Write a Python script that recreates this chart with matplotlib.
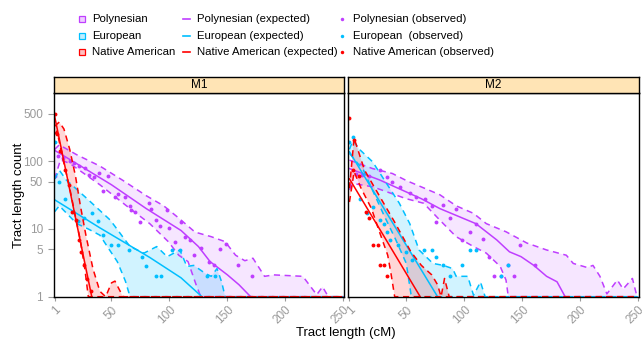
import numpy as np
import matplotlib.pyplot as plt
from matplotlib.lines import Line2D

# colours
pol_col = "#BF3EFF"
eur_col = "#00BFFF"
nat_col = "#FF0000"

# ---------------- M1 ----------------
m1_pol_exp_x = [1, 25, 50, 80, 110, 125, 135, 150, 160, 170]
m1_pol_exp_y = [145, 82, 45, 20, 9.5, 5.5, 3.3, 2.1, 1.5, 1.0]
m1_pol_hi_x = [1, 5, 20, 40, 60, 80, 95, 108, 122, 136, 148, 157, 165, 172, 182, 190, 215, 227, 232, 237, 250]
m1_pol_hi_y = [150, 175, 125, 85, 52, 31, 22, 14.5, 9, 7.7, 6.5, 4.1, 3.4, 3.7, 2.0, 2.1, 2.0, 1.07, 1.4, 1.0, 1.0]
m1_pol_lo_x = [1, 6, 14, 40, 66, 83, 99, 108, 116, 123, 127, 250]
m1_pol_lo_y = [55, 105, 93, 45, 20, 12, 6.5, 4.1, 3.3, 1.5, 1.0, 1.0]
m1_pol_obs_x = [1, 4, 8, 14, 18, 22, 27, 31, 35, 39, 43, 47, 53, 56, 62, 66, 67, 70, 75, 82,
                84, 88, 92, 98, 100, 105, 110, 113, 118, 121, 127, 134, 138, 144, 149, 159, 171]
m1_pol_obs_y = [60, 118, 112, 100, 95, 84, 79, 63, 58, 68, 36, 60, 30, 33, 30, 22, 19, 18, 12.5, 24,
                20, 13.5, 11, 19, 10.5, 6.5, 12.5, 7.5, 6.8, 4.2, 5.2, 3.3, 2.9, 5.0, 6, 2.9, 2.0]

m1_eur_exp_x = [1, 40, 83, 110, 128]
m1_eur_exp_y = [27, 10.4, 3.8, 1.9, 1.0]
m1_eur_hi_x = [1, 5, 11, 29, 49, 66, 78, 89, 98, 109, 115, 121, 131, 136, 141, 145, 148, 250]
m1_eur_hi_y = [55, 74, 53, 28, 13.5, 5.5, 4.4, 5.5, 3.9, 4.9, 2.8, 2.9, 2.2, 2.0, 2.6, 1.65, 1.0, 1.0]
m1_eur_lo_x = [1, 5, 10, 20, 30, 40, 48, 55, 62, 66, 250]
m1_eur_lo_y = [18, 22, 18, 12, 10, 8.1, 5, 3.3, 1.7, 1.0, 1.0]
m1_eur_obs_x = [1, 5, 10, 17, 21, 26, 33, 38, 43, 50, 56, 65, 76, 80, 88, 93, 102, 109, 132, 139]
m1_eur_obs_y = [190, 50, 28, 18, 13, 14.4, 17, 13, 8.1, 5.8, 5.8, 4.9, 3.9, 2.8, 2.0, 2.0, 4.9, 4.9, 2.0, 2.0]

m1_nat_exp_x = [1, 10, 20, 33]
m1_nat_exp_y = [460, 82, 12, 1.0]
m1_nat_hi_x = [1, 5, 9, 14, 19, 23, 28, 34, 40, 45, 50, 53, 57, 60, 250]
m1_nat_hi_y = [330, 380, 300, 150, 60, 23, 8, 2.6, 1.2, 1.0, 1.6, 1.7, 1.25, 1.0, 1.0]
m1_nat_lo_x = [1, 3, 8, 14, 19, 23, 27, 30, 250]
m1_nat_lo_y = [250, 280, 110, 40, 15, 7, 2.6, 1.0, 1.0]
m1_nat_obs_x = [1, 3, 6, 10, 13, 16, 19, 22, 24, 26, 29, 32]
m1_nat_obs_y = [500, 250, 140, 74, 45, 18, 13.6, 6.9, 4.5, 2.9, 1.8, 1.2]

# ---------------- M2 ----------------
m2_pol_exp_x = [1, 27, 63, 79, 110, 128, 139, 149, 160, 171, 180, 187]
m2_pol_exp_y = [78, 53, 28, 20, 12, 6.9, 4.6, 3.9, 2.9, 2.0, 1.66, 1.0]
m2_pol_hi_x = [1, 21, 38, 50, 79, 93, 108, 119, 136, 154, 171, 188, 194, 206, 211, 217, 223, 232, 237, 245, 249, 250]
m2_pol_hi_y = [104, 78, 66, 52, 32, 22, 17, 12, 9.1, 6.2, 4.9, 4.1, 3.1, 2.7, 2.9, 2.0, 1.1, 1.76, 1.3, 1.86, 1.0, 1.0]
m2_pol_lo_x = [1, 4, 21, 50, 65, 79, 93, 108, 119, 131, 136, 138, 250]
m2_pol_lo_y = [38, 47, 42, 28, 24, 13.5, 7.7, 5.5, 4.4, 2.8, 1.76, 1.0, 1.0]
m2_pol_obs_x = [1, 7, 12, 18, 27, 33, 38, 45, 53, 58, 66, 72, 76, 82, 88, 93, 98, 105, 110,
                116, 121, 126, 132, 138, 143, 148, 161]
m2_pol_obs_y = [45, 66, 62, 60, 74, 59, 50, 42, 34, 30, 28, 22, 12.8, 22.6, 14.4, 20, 6.9, 9.1, 12,
                7, 3.9, 2.0, 2.0, 2.9, 2.0, 5.8, 2.9]

m2_eur_exp_x = [1, 40, 77]
m2_eur_exp_y = [138, 11, 1.0]
m2_eur_hi_x = [1, 4, 10, 21, 44, 53, 61, 73, 82, 90, 93, 103, 108, 114, 118, 250]
m2_eur_hi_y = [150, 204, 148, 98, 24, 12, 4.9, 3.1, 2.9, 2.6, 2.0, 2.0, 1.05, 1.65, 1.0, 1.0]
m2_eur_lo_x = [1, 13, 30, 41, 50, 54, 56, 250]
m2_eur_lo_y = [131, 74, 17, 6.9, 3.1, 1.1, 1.0, 1.0]
m2_eur_obs_x = [1, 4, 10, 16, 21, 27, 31, 33, 36, 43, 50, 55, 65, 72, 76, 82, 88, 98, 105, 110, 132, 138]
m2_eur_obs_y = [195, 230, 28, 17, 21, 13.5, 12, 9.1, 6.9, 5.8, 4.5, 3.5, 4.9, 4.9, 3.9, 2.9, 2.0, 2.9, 4.9, 4.9, 2.0, 2.9]

m2_nat_exp_x = [1, 30, 62]
m2_nat_exp_y = [55, 8.2, 1.0]
m2_nat_hi_x = [1, 5, 14, 23, 40, 54, 63, 72, 77, 80, 83, 87, 250]
m2_nat_hi_y = [40, 220, 74, 40, 12.6, 4.6, 2.9, 2.1, 1.5, 1.0, 1.86, 1.0, 1.0]
m2_nat_lo_x = [1, 5, 11, 20, 26, 34, 37, 40, 250]
m2_nat_lo_y = [25, 70, 40, 20, 10, 4.1, 2.1, 1.0, 1.0]
m2_nat_obs_x = [1, 4, 5, 9, 15, 18, 21, 26, 27, 31, 33]
m2_nat_obs_y = [430, 74, 205, 60, 18, 14.5, 5.8, 5.8, 2.9, 2.9, 2.0]

panels = {
    "M1": [
        (pol_col, 0.13, m1_pol_exp_x, m1_pol_exp_y, m1_pol_hi_x, m1_pol_hi_y, m1_pol_lo_x, m1_pol_lo_y, m1_pol_obs_x, m1_pol_obs_y),
        (eur_col, 0.18, m1_eur_exp_x, m1_eur_exp_y, m1_eur_hi_x, m1_eur_hi_y, m1_eur_lo_x, m1_eur_lo_y, m1_eur_obs_x, m1_eur_obs_y),
        (nat_col, 0.16, m1_nat_exp_x, m1_nat_exp_y, m1_nat_hi_x, m1_nat_hi_y, m1_nat_lo_x, m1_nat_lo_y, m1_nat_obs_x, m1_nat_obs_y),
    ],
    "M2": [
        (pol_col, 0.13, m2_pol_exp_x, m2_pol_exp_y, m2_pol_hi_x, m2_pol_hi_y, m2_pol_lo_x, m2_pol_lo_y, m2_pol_obs_x, m2_pol_obs_y),
        (eur_col, 0.18, m2_eur_exp_x, m2_eur_exp_y, m2_eur_hi_x, m2_eur_hi_y, m2_eur_lo_x, m2_eur_lo_y, m2_eur_obs_x, m2_eur_obs_y),
        (nat_col, 0.16, m2_nat_exp_x, m2_nat_exp_y, m2_nat_hi_x, m2_nat_hi_y, m2_nat_lo_x, m2_nat_lo_y, m2_nat_obs_x, m2_nat_obs_y),
    ],
}

W, H = 642, 339
fig = plt.figure(figsize=(W / 100, H / 100), dpi=100)
plt.rcParams["font.family"] = ["Liberation Sans", "DejaVu Sans"]

tick_grey = "#9a9a9a"
x_ticks = [1, 50, 100, 150, 200, 250]
y_ticks = [1, 5, 10, 50, 100, 500]

panel_left = {"M1": 53.5, "M2": 348.3}
panel_w = 290.6
top_px, bot_px = 93, 297

for name, series in panels.items():
    l = panel_left[name]
    ax = fig.add_axes([l / W, 1 - bot_px / H, panel_w / W, (bot_px - top_px) / H])
    ax.set_yscale("log")
    for col, a, ex, ey, hx, hy, lx, ly, ox, oy in series:
        ax.fill(np.r_[hx, lx[::-1]], np.r_[hy, ly[::-1]], color=col, alpha=a, lw=0)
        ax.plot(hx, hy, color=col, lw=1.1, ls=(0, (4, 3)))
        ax.plot(lx, ly, color=col, lw=1.1, ls=(0, (4, 3)))
        ax.plot(ex, ey, color=col, lw=1.1)
        ax.plot(ox, oy, ls="none", marker="o", ms=2.8, color=col, mec="none")
    ax.set_xlim(0, 250.6)
    ax.set_ylim(0.99, 1020)
    ax.set_xticks(x_ticks)
    ax.set_xticklabels([str(t) for t in x_ticks], rotation=45, ha="right",
                       rotation_mode="anchor", color=tick_grey, fontsize=8.5)
    ax.minorticks_off()
    ax.set_yticks(y_ticks)
    if name == "M1":
        ax.set_yticklabels([str(t) for t in y_ticks], color=tick_grey, fontsize=8.5)
        ax.tick_params(axis="y", length=4, color=tick_grey, width=0.8)
    else:
        ax.tick_params(axis="y", length=0, labelleft=False)
    ax.tick_params(axis="x", length=3, color=tick_grey, width=0.8, pad=2)
    for s in ax.spines.values():
        s.set_linewidth(1.0)
        s.set_color("black")

    # strip
    sax = fig.add_axes([l / W, 1 - top_px / H, panel_w / W, 16 / H])
    sax.set_facecolor("#FFE4B5")
    sax.set_xticks([])
    sax.set_yticks([])
    for s in sax.spines.values():
        s.set_linewidth(1.0)
    sax.text(0.5, 0.5, name, ha="center", va="center", fontsize=8.5, transform=sax.transAxes)

fig.text(19 / W, 1 - 195 / H, "Tract length count", rotation=90, ha="center", va="center", fontsize=9.5)
fig.text(346 / W, 1 - 333 / H, "Tract length (cM)", ha="center", va="center", fontsize=9.5)

# legend
rows = [19, 36, 52]
cols = [pol_col, eur_col, nat_col]
col1 = ["Polynesian", "European", "Native American"]
col2 = ["Polynesian (expected)", "European (expected)", "Native American (expected)"]
col3 = ["Polynesian (observed)", "European  (observed)", "Native American (observed)"]
for r, c, t1, t2, t3 in zip(rows, cols, col1, col2, col3):
    yf = 1 - r / H
    fig.add_artist(Line2D([82 / W], [yf], marker="s", ms=5, mfc=c + "40", mec=c, mew=0.9, ls="none"))
    fig.text(92 / W, yf, t1, va="center", fontsize=8.2)
    fig.add_artist(Line2D([183 / W, 190 / W], [yf, yf], color=c, lw=1.2))
    fig.text(197 / W, yf, t2, va="center", fontsize=8.2)
    fig.add_artist(Line2D([342 / W], [yf], marker="o", ms=2.5, color=c, mec="none", ls="none"))
    fig.text(353 / W, yf, t3, va="center", fontsize=8.2)

fig.savefig("out.png", dpi=100)
